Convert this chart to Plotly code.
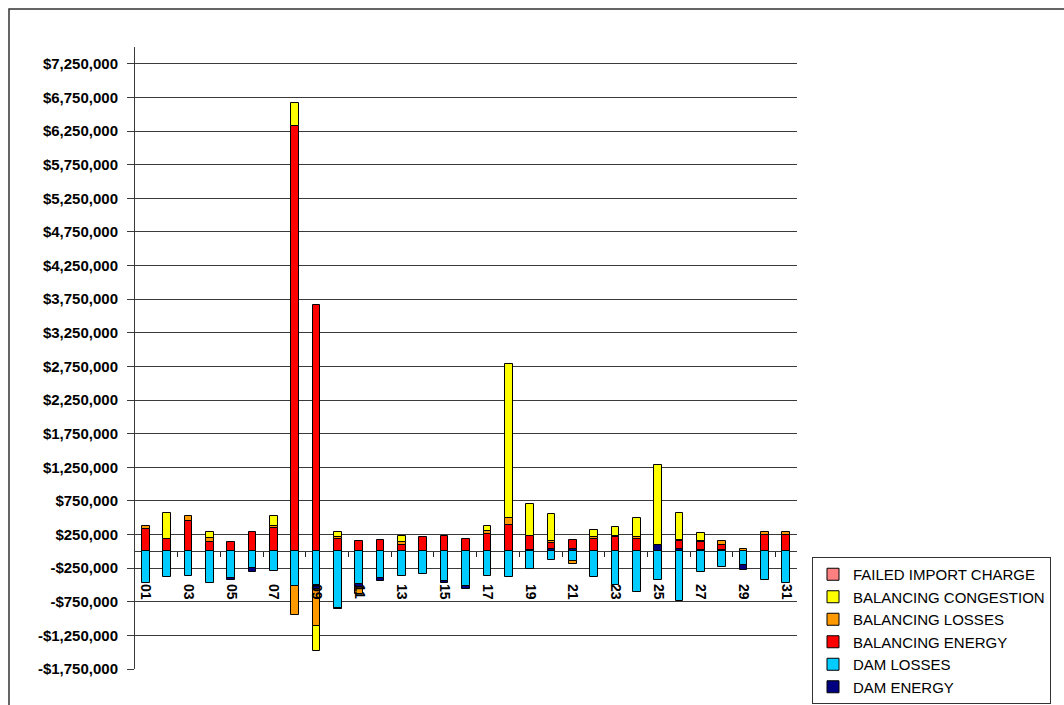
import plotly.graph_objects as go

days = list(range(1, 32))
day_labels = ["01", "03", "05", "07", "09", "11", "13", "15", "17", "19", "21",
              "23", "25", "27", "29", "31"]
label_days = [1, 3, 5, 7, 9, 11, 13, 15, 17, 19, 21, 23, 25, 27, 29, 31]

# values in dollars (0 = no segment)
dam_losses = [-470000, -385000, -370000, -475000, -395000, -245000, -295000, -520000,
              -494000, -840000, -490000, -395000, -370000, -330000, -445000, -520000,
              -370000, -385000, -260000, -130000, -140000, -385000, -495000, -600000,
              -420000, -740000, -300000, -230000, -200000, -420000, -470000]
dam_energy = [0, 0, 0, 0, -35000, -60000, 0, 0,
              -70000, -20000, -40000, -40000, 0, 0, -30000, -45000,
              0, 0, 25000, 30000, 40000, 0, 0, 0,
              90000, 40000, 25000, 25000, -80000, 0, 0]
balancing_energy = [325000, 176000, 455000, 135000, 145000, 290000, 350000, 6320000,
                    3670000, 190000, 160000, 165000, 90000, 210000, 235000, 185000,
                    260000, 390000, 210000, 95000, 130000, 186000, 215000, 190000,
                    0, 110000, 110000, 70000, 0, 240000, 240000]
balancing_losses = [50000, 0, 65000, 60000, 0, 0, 20000, -420000,
                    -550000, 30000, -100000, 0, 45000, 0, 0, 0,
                    40000, 100000, 0, 30000, -50000, 20000, 20000, 20000,
                    0, 20000, 20000, 55000, 30000, 50000, 50000]
balancing_congestion = [0, 390000, 0, 95000, 0, 0, 150000, 340000,
                        -370000, 70000, 0, 0, 100000, 0, 0, 0,
                        70000, 2290000, 475000, 395000, 0, 105000, 125000, 290000,
                        1200000, 400000, 120000, 0, 0, 0, 0]
failed_import_charge = [0] * 31

y_tick_vals = [-1750000, -1250000, -750000, -250000, 250000, 750000, 1250000, 1750000,
               2250000, 2750000, 3250000, 3750000, 4250000, 4750000, 5250000, 5750000,
               6250000, 6750000, 7250000]
y_tick_text = ["-$1,750,000", "-$1,250,000", "-$750,000", "-$250,000", "$250,000",
               "$750,000", "$1,250,000", "$1,750,000", "$2,250,000", "$2,750,000",
               "$3,250,000", "$3,750,000", "$4,250,000", "$4,750,000", "$5,250,000",
               "$5,750,000", "$6,250,000", "$6,750,000", "$7,250,000"]
x_tick_marks = [2.5, 4.5, 6.5, 8.5, 10.5, 12.5, 14.5, 16.5, 18.5, 20.5, 22.5, 24.5,
                26.5, 28.5, 30.5]


def nz(vals):
    return [v if v != 0 else None for v in vals]


series = [
    # name, values, color, legend rank
    ("DAM LOSSES", dam_losses, "#00CCFF", 5),
    ("DAM ENERGY", dam_energy, "#000080", 6),
    ("BALANCING ENERGY", balancing_energy, "#FF0000", 4),
    ("BALANCING LOSSES", balancing_losses, "#FF9900", 3),
    ("BALANCING CONGESTION", balancing_congestion, "#FFFF00", 2),
    ("FAILED IMPORT CHARGE", failed_import_charge, "#FF8080", 1),
]

FONT = "Liberation Sans, Arial, sans-serif"

fig = go.Figure()
for name, vals, color, rank in series:
    fig.add_trace(go.Bar(
        x=days, y=nz(vals), name=name, width=0.36,
        marker=dict(color=color, line=dict(color="black", width=1)),
        legendrank=rank,
    ))

# invisible helper trace for the label axis
fig.add_trace(go.Scatter(x=label_days, y=[None] * len(label_days), xaxis="x2",
                         showlegend=False, hoverinfo="skip"))

ymin, ymax = -1750000, 7500000
zero_pos = (0 - ymin) / (ymax - ymin)
TOP, BOT = 47, 669
PLOT_H = BOT - TOP

fig.update_layout(
    template="none",
    width=1064, height=705,
    margin=dict(l=135, r=267, t=TOP, b=705 - BOT, pad=0, autoexpand=False),
    paper_bgcolor="white", plot_bgcolor="white",
    barmode="relative", bargap=0,
    font=dict(family=FONT, color="black"),
    xaxis=dict(range=[0.5, 31.5], anchor="free", position=zero_pos,
               showline=False, showgrid=False, zeroline=False, automargin=False,
               tickvals=x_tick_marks, ticks="outside", ticklen=5, tickwidth=1,
               tickcolor="#222", showticklabels=False),
    xaxis2=dict(range=[0.5, 31.5], overlaying="x", anchor="free",
                position=(BOT - 583) / PLOT_H, automargin=False,
                showline=False, showgrid=False, zeroline=False, ticks="",
                tickvals=label_days, ticktext=day_labels, tickangle=90,
                tickfont=dict(size=14, family=FONT, color="black", weight="bold")),
    yaxis=dict(range=[ymin, ymax], tickvals=y_tick_vals, ticktext=y_tick_text,
               automargin=False,
               showgrid=True, gridcolor="#3a3a3a", gridwidth=1,
               zeroline=True, zerolinecolor="#3a3a3a", zerolinewidth=1,
               showline=True, linecolor="#3a3a3a", linewidth=1,
               ticks="outside", ticklen=7, tickcolor="#3a3a3a",
               ticklabelstandoff=6,
               tickfont=dict(size=15, family=FONT, color="black", weight="bold")),
    legend=dict(x=(812 - 135) / 662, y=(BOT - 557) / PLOT_H,
                xanchor="left", yanchor="top",
                bordercolor="#333", borderwidth=1, bgcolor="white",
                font=dict(size=15, family=FONT, color="black"),
                itemwidth=30, traceorder="normal"),
    shapes=[dict(type="rect", xref="paper", yref="paper",
                 x0=(9 - 135) / 662, x1=2.0, y0=-1.0, y1=(BOT - 9) / PLOT_H,
                 line=dict(color="#333", width=1.5), layer="below")],
    showlegend=True,
)

fig.write_html("out.html", config={"displayModeBar": False},
               post_script="document.body.style.margin='0';document.body.style.overflow='hidden';")
